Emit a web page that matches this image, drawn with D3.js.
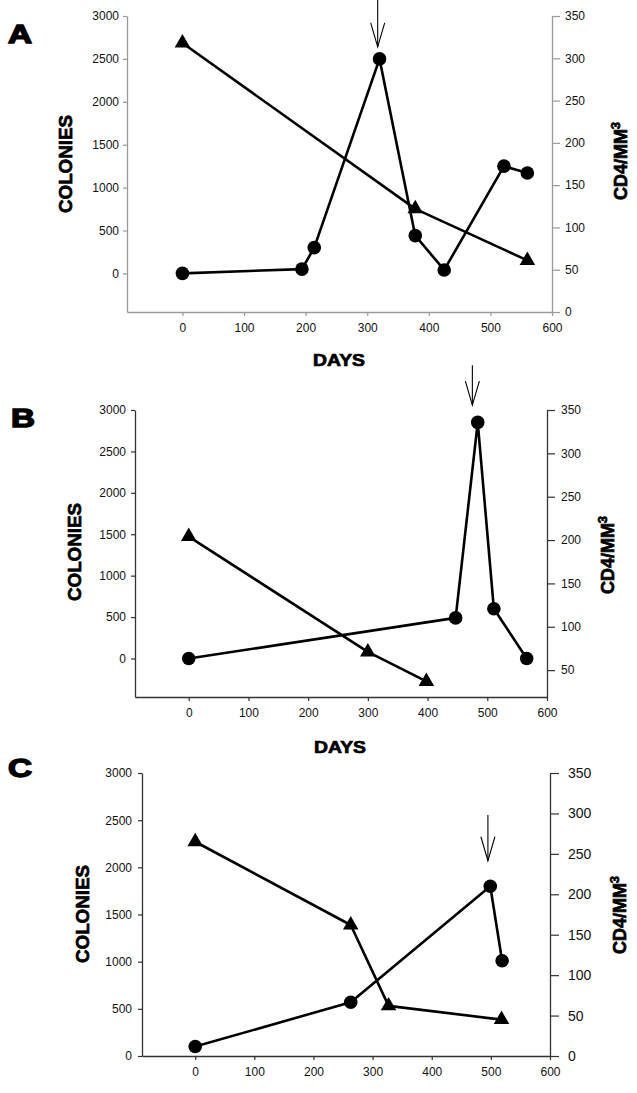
<!DOCTYPE html>
<html>
<head>
  <title>Colonies and CD4 over time</title>
  <style>
    body { margin: 0; background: #fff; }
    svg { display: block; background: #fff; }
    .tick text { font-family: "Liberation Sans", Arial, sans-serif; fill: #111; }
    .lbl { font-family: "Liberation Sans", Arial, sans-serif; font-weight: bold; fill: #000; stroke: #000; stroke-width: 0.7px; }
  </style>
</head>
<body>
  <svg width="637" height="1093"></svg>
  <script src="https://d3js.org/d3.v7.min.js"></script>
  <script>
    // shared tick labels
    const dayTicks = [0, 100, 200, 300, 400, 500, 600];
    const colonyTicks = [0, 500, 1000, 1500, 2000, 2500, 3000];
    const cd4TicksFull = [0, 50, 100, 150, 200, 250, 300, 350];
    const cd4TicksB = [50, 100, 150, 200, 250, 300, 350];

    // panel A
    const daysColA = [0, 194, 214, 320, 378, 425, 522, 560];
    const coloniesA = [0, 50, 300, 2500, 440, 40, 1250, 1170];
    const daysCd4A = [0, 378, 560];
    const cd4A = [318, 122, 61];
    const arrowA = [317, 3190, 2640]; // day, from, to (colonies units)

    // panel B
    const daysColB = [0, 447, 484, 511, 566];
    const coloniesB = [0, 490, 2850, 600, 0];
    const daysCd4B = [0, 300, 398];
    const cd4B = [204, 71, 37];
    const arrowB = [475, 3540, 3060];

    // panel C
    const daysColC = [0, 263, 499, 519];
    const coloniesC = [100, 570, 1800, 1010];
    const daysCd4C = [0, 263, 327, 518];
    const cd4C = [265, 162, 62, 45];
    const arrowC = [495, 2555, 2070];

    const svg = d3.select("svg");
    const fmt = d3.format("d");

    const panels = [
      { letter: "A", lx: 8, ly: 43, left: 127, right: 552, top: 16, bottom: 312,
        colDomain: [-450, 3000], cd4Domain: [0, 350], cd4Ticks: cd4TicksFull,
        axisColor: "#9a9a9a", rightFont: 12, rightPad: 5, rightTick: 8, leftPad: 4,
        colLabel: [66, 164], cd4Label: [621, 161], daysLabel: [339, 366],
        daysCol: daysColA, colonies: coloniesA, daysCd4: daysCd4A, cd4: cd4A, arrow: arrowA },
      { letter: "B", lx: 11, ly: 427, left: 135, right: 547, top: 410, bottom: 697,
        colDomain: [-465, 3000], cd4Domain: [19, 350], cd4Ticks: cd4TicksB,
        axisColor: "#333", rightFont: 12, rightPad: 6, rightTick: 8, leftPad: 5,
        colLabel: [75, 552], cd4Label: [608, 555], daysLabel: [340, 753],
        daysCol: daysColB, colonies: coloniesB, daysCd4: daysCd4B, cd4: cd4B, arrow: arrowB },
      { letter: "C", lx: 8, ly: 777, left: 142, right: 550, top: 773, bottom: 1056,
        colDomain: [0, 3000], cd4Domain: [0, 350], cd4Ticks: cd4TicksFull,
        axisColor: "#333", rightFont: 14, rightPad: 9, rightTick: 9, leftPad: 6,
        colLabel: [83, 914], cd4Label: [620, 915], daysLabel: null,
        daysCol: daysColC, colonies: coloniesC, daysCd4: daysCd4C, cd4: cd4C, arrow: arrowC }
    ];

    panels.forEach(function(p) {
      const x = d3.scaleLinear().domain([-90, 600]).range([p.left, p.right]);
      const yL = d3.scaleLinear().domain(p.colDomain).range([p.bottom, p.top]);
      const yR = d3.scaleLinear().domain(p.cd4Domain).range([p.bottom, p.top]);

      // axes
      const gx = svg.append("g")
        .attr("transform", "translate(0," + p.bottom + ")")
        .call(d3.axisBottom(x).tickValues(dayTicks).tickFormat(fmt).tickSize(4).tickPadding(7).tickSizeOuter(0));
      const gl = svg.append("g")
        .attr("transform", "translate(" + p.left + ",0)")
        .call(d3.axisLeft(yL).tickValues(colonyTicks).tickFormat(fmt).tickSize(4).tickPadding(p.leftPad).tickSizeOuter(0));
      const gr = svg.append("g")
        .attr("transform", "translate(" + p.right + ",0)")
        .call(d3.axisRight(yR).tickValues(p.cd4Ticks).tickFormat(fmt).tickSize(p.rightTick).tickPadding(p.rightPad).tickSizeOuter(0));

      [gx, gl, gr].forEach(function(g) {
        g.select(".domain").attr("stroke", p.axisColor).attr("stroke-width", 1.3);
        g.selectAll(".tick line").attr("stroke", p.axisColor).attr("stroke-width", 1.2);
        g.selectAll(".tick text").style("font-size", "12px");
      });
      gr.selectAll(".tick text").style("font-size", p.rightFont + "px");

      // colonies line (circles)
      const colPts = p.daysCol.map(function(d, i) { return [d, p.colonies[i]]; });
      svg.append("path")
        .datum(colPts)
        .attr("fill", "none")
        .attr("stroke", "#000")
        .attr("stroke-width", 2.6)
        .attr("stroke-linejoin", "round")
        .attr("d", d3.line().x(function(d) { return x(d[0]); }).y(function(d) { return yL(d[1]); }));

      // cd4 line (triangles)
      const cdPts = p.daysCd4.map(function(d, i) { return [d, p.cd4[i]]; });
      svg.append("path")
        .datum(cdPts)
        .attr("fill", "none")
        .attr("stroke", "#000")
        .attr("stroke-width", 2.6)
        .attr("stroke-linejoin", "round")
        .attr("d", d3.line().x(function(d) { return x(d[0]); }).y(function(d) { return yR(d[1]); }));

      svg.selectAll(null)
        .data(colPts)
        .enter()
        .append("circle")
        .attr("cx", function(d) { return x(d[0]); })
        .attr("cy", function(d) { return yL(d[1]); })
        .attr("r", 6.8)
        .attr("fill", "#000");

      svg.selectAll(null)
        .data(cdPts)
        .enter()
        .append("path")
        .attr("transform", function(d) { return "translate(" + x(d[0]) + "," + yR(d[1]) + ")"; })
        .attr("d", d3.symbol().type(d3.symbolTriangle).size(105))
        .attr("fill", "#000");

      // arrow marking the peak
      const ax = x(p.arrow[0]), y0 = yL(p.arrow[1]), y1 = yL(p.arrow[2]);
      const arrow = svg.append("g").attr("stroke", "#000").attr("stroke-width", 1.1).attr("fill", "none");
      arrow.append("line").attr("x1", ax).attr("x2", ax).attr("y1", Math.max(y0, 0)).attr("y2", y1);
      arrow.append("path").attr("d", "M" + (ax - 7) + "," + (y1 - 24) + "L" + ax + "," + y1 + "L" + (ax + 7) + "," + (y1 - 24));

      // labels
      svg.append("text")
        .attr("class", "lbl")
        .attr("x", p.lx)
        .attr("y", p.ly)
        .attr("textLength", 24)
        .attr("lengthAdjust", "spacingAndGlyphs")
        .style("font-size", "25px")
        .style("stroke-width", "1.4px")
        .text(p.letter);

      svg.append("text")
        .attr("class", "lbl")
        .attr("transform", "translate(" + p.colLabel[0] + "," + p.colLabel[1] + ") rotate(-90)")
        .attr("text-anchor", "middle")
        .attr("dy", "0.36em")
        .attr("textLength", 98)
        .attr("lengthAdjust", "spacingAndGlyphs")
        .style("font-size", "18px")
        .text("COLONIES");

      const cd = svg.append("text")
        .attr("class", "lbl")
        .attr("transform", "translate(" + p.cd4Label[0] + "," + p.cd4Label[1] + ") rotate(-90)")
        .attr("text-anchor", "middle")
        .attr("dy", "0.36em")
        .style("font-size", "18px");
      cd.append("tspan").text("CD4/MM");
      cd.append("tspan").attr("dy", "-0.6em").style("font-size", "13px").text("3");

      if (p.daysLabel) {
        svg.append("text")
          .attr("class", "lbl")
          .attr("x", p.daysLabel[0])
          .attr("y", p.daysLabel[1])
          .attr("text-anchor", "middle")
          .attr("textLength", 52)
          .attr("lengthAdjust", "spacingAndGlyphs")
          .style("font-size", "17px")
          .text("DAYS");
      }
    });
  </script>
</body>
</html>
